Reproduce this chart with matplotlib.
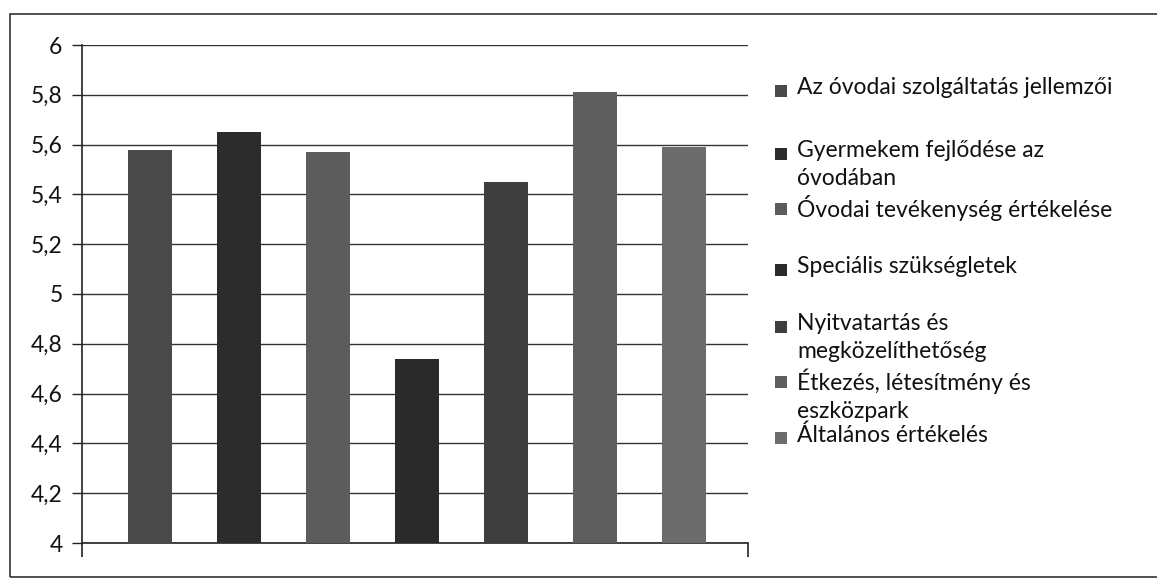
import matplotlib.pyplot as plt
from matplotlib.patches import Rectangle

categories = [
    "Az óvodai szolgáltatás jellemzői",
    "Gyermekem fejlődése az\nóvodában",
    "Óvodai tevékenység értékelése",
    "Speciális szükségletek",
    "Nyitvatartás és\nmegközelíthetőség",
    "Étkezés, létesítmény és\neszközpark",
    "Általános értékelés",
]
values = [5.58, 5.65, 5.57, 4.74, 5.45, 5.81, 5.59]
colors = ["#4a4a4a", "#2c2c2c", "#5c5c5c", "#2a2a2a", "#3e3e3e", "#5e5e5e", "#6c6c6c"]
yticks = [4, 4.2, 4.4, 4.6, 4.8, 5, 5.2, 5.4, 5.6, 5.8, 6]

plt.rcParams["font.family"] = ["Lato", "DejaVu Sans"]

fig = plt.figure(figsize=(11.57, 5.80), dpi=100)
W, H = 1157, 580
ax = fig.add_axes([82 / W, 37 / H, 666 / W, 498 / H])

x = list(range(len(values)))
ax.bar(x, values, width=0.5, color=colors, zorder=3)

ax.set_ylim(4, 6)
x0, x1 = -0.764, 6.72
ax.set_xlim(x0, x1)
ax.set_yticks(yticks)
ax.set_yticklabels([f"{v:g}".replace(".", ",") for v in yticks], fontsize=16.5, color="#111111")
ax.set_xticks([x0, x1])
ax.set_xticklabels([])
ax.tick_params(axis="y", length=7, width=1, color="#222222", pad=7)
ax.tick_params(axis="x", length=10, width=1.2, color="#222222")
ax.grid(axis="y", color="#333333", linewidth=1, zorder=0)
for s in ["top", "right"]:
    ax.spines[s].set_visible(False)
for s in ["left", "bottom"]:
    ax.spines[s].set_color("#222222")
    ax.spines[s].set_linewidth(1.2)

# outer chart frame, running off the right edge
fig.patches.append(Rectangle((10 / W, 3 / H), 1.2, 563 / H, transform=fig.transFigure,
                             fill=False, edgecolor="#333333", linewidth=1.2))

# legend entries, placed by hand
legend_y = [91, 154, 209, 270, 327, 382, 438]
for lab, col, yy in zip(categories, colors, legend_y):
    fig.patches.append(Rectangle((775 / W, 1 - (yy + 6) / H), 12 / W, 12 / H,
                                 transform=fig.transFigure, facecolor=col, edgecolor="none"))
    fig.text(797 / W, 1 - (yy - 14) / H, lab, fontsize=16.5, va="top", ha="left",
             linespacing=1.42, color="#111111")

fig.savefig("out.png", dpi=100)
